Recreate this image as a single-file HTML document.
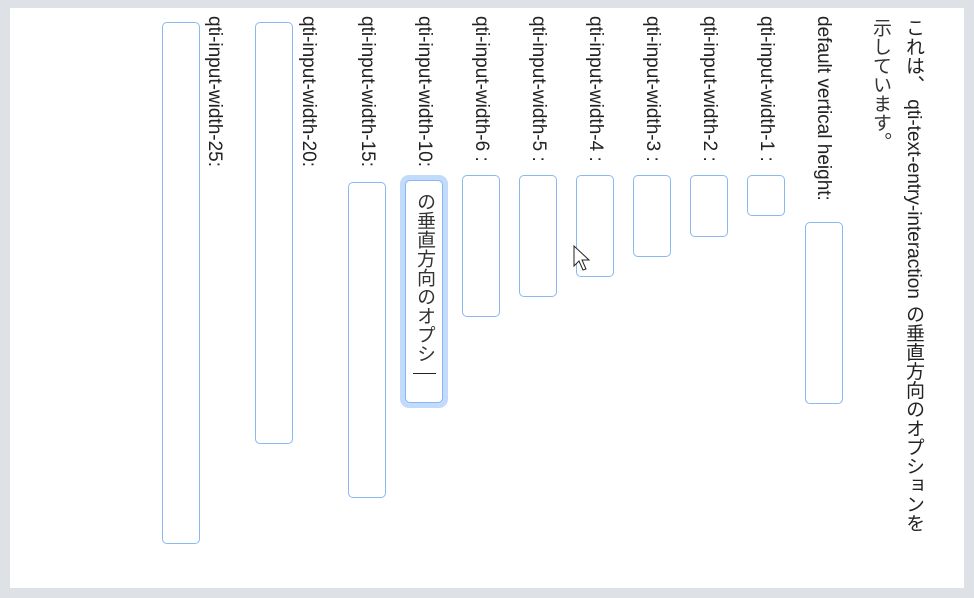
<!DOCTYPE html>
<html><head><meta charset="utf-8"><style>
body{margin:0;width:974px;height:598px;background:#dee2e6;position:relative;overflow:hidden;font-family:"Liberation Sans","Noto Sans CJK JP",sans-serif;}
.w{position:absolute;left:10px;top:8px;width:954px;height:580px;background:#fff;}
.l{position:absolute;writing-mode:vertical-rl;font-size:19px;line-height:22px;width:22px;color:#222;white-space:nowrap;top:16px;}
.b{position:absolute;border:1px solid #8ab8f0;border-radius:5px;box-sizing:border-box;background:#fff;}
.i{position:absolute;writing-mode:vertical-rl;font-size:19px;line-height:22px;color:#333;white-space:nowrap;}
</style></head><body>
<div class="w"></div>
<div class="i" style="left:902px;top:18px;color:#222">これは、 qti-text-entry-interaction の垂直方向のオプションを</div>
<div class="i" style="left:869px;top:18px;color:#333">示しています。</div>

<div class="l" style="left:812px">default vertical height:</div>
<div class="b" style="left:805px;top:222px;width:38px;height:182px"></div>
<div class="l" style="left:755px">qti-input-width-1 :</div>
<div class="b" style="left:747px;top:175px;width:38px;height:41px"></div>
<div class="l" style="left:698px">qti-input-width-2 :</div>
<div class="b" style="left:690px;top:175px;width:38px;height:62px"></div>
<div class="l" style="left:641px">qti-input-width-3 :</div>
<div class="b" style="left:633px;top:175px;width:38px;height:82px"></div>
<div class="l" style="left:584px">qti-input-width-4 :</div>
<div class="b" style="left:576px;top:175px;width:38px;height:102px"></div>
<div class="l" style="left:527px">qti-input-width-5 :</div>
<div class="b" style="left:519px;top:175px;width:38px;height:122px"></div>
<div class="l" style="left:470px">qti-input-width-6 :</div>
<div class="b" style="left:462px;top:175px;width:38px;height:142px"></div>
<div class="l" style="left:413px">qti-input-width-10:</div>
<div style="position:absolute;left:400px;top:175px;width:48px;height:233px;border-radius:9px;background:#c2dbfb"></div>
<div class="b" style="left:405px;top:180px;width:38px;height:223px;border-color:#86b7fe"></div>
<div class="i" style="left:413px;top:192px;color:#333">の垂直方向のオプシ</div>
<div style="position:absolute;left:413px;top:373px;width:23px;height:1px;background:#222"></div>
<div class="l" style="left:356px">qti-input-width-15:</div>
<div class="b" style="left:348px;top:182px;width:38px;height:316px"></div>
<div class="l" style="left:297px">qti-input-width-20:</div>
<div class="b" style="left:255px;top:22px;width:38px;height:422px"></div>
<div class="l" style="left:203px">qti-input-width-25:</div>
<div class="b" style="left:162px;top:22px;width:38px;height:522px"></div>
<svg style="position:absolute;left:572px;top:244px" width="20" height="30"><path d="M2 2 L2 22 L7 17 L11 26 L14 25 L10 16 L17 16 Z" fill="#fff" stroke="#222" stroke-width="1"/></svg>
</body></html>
